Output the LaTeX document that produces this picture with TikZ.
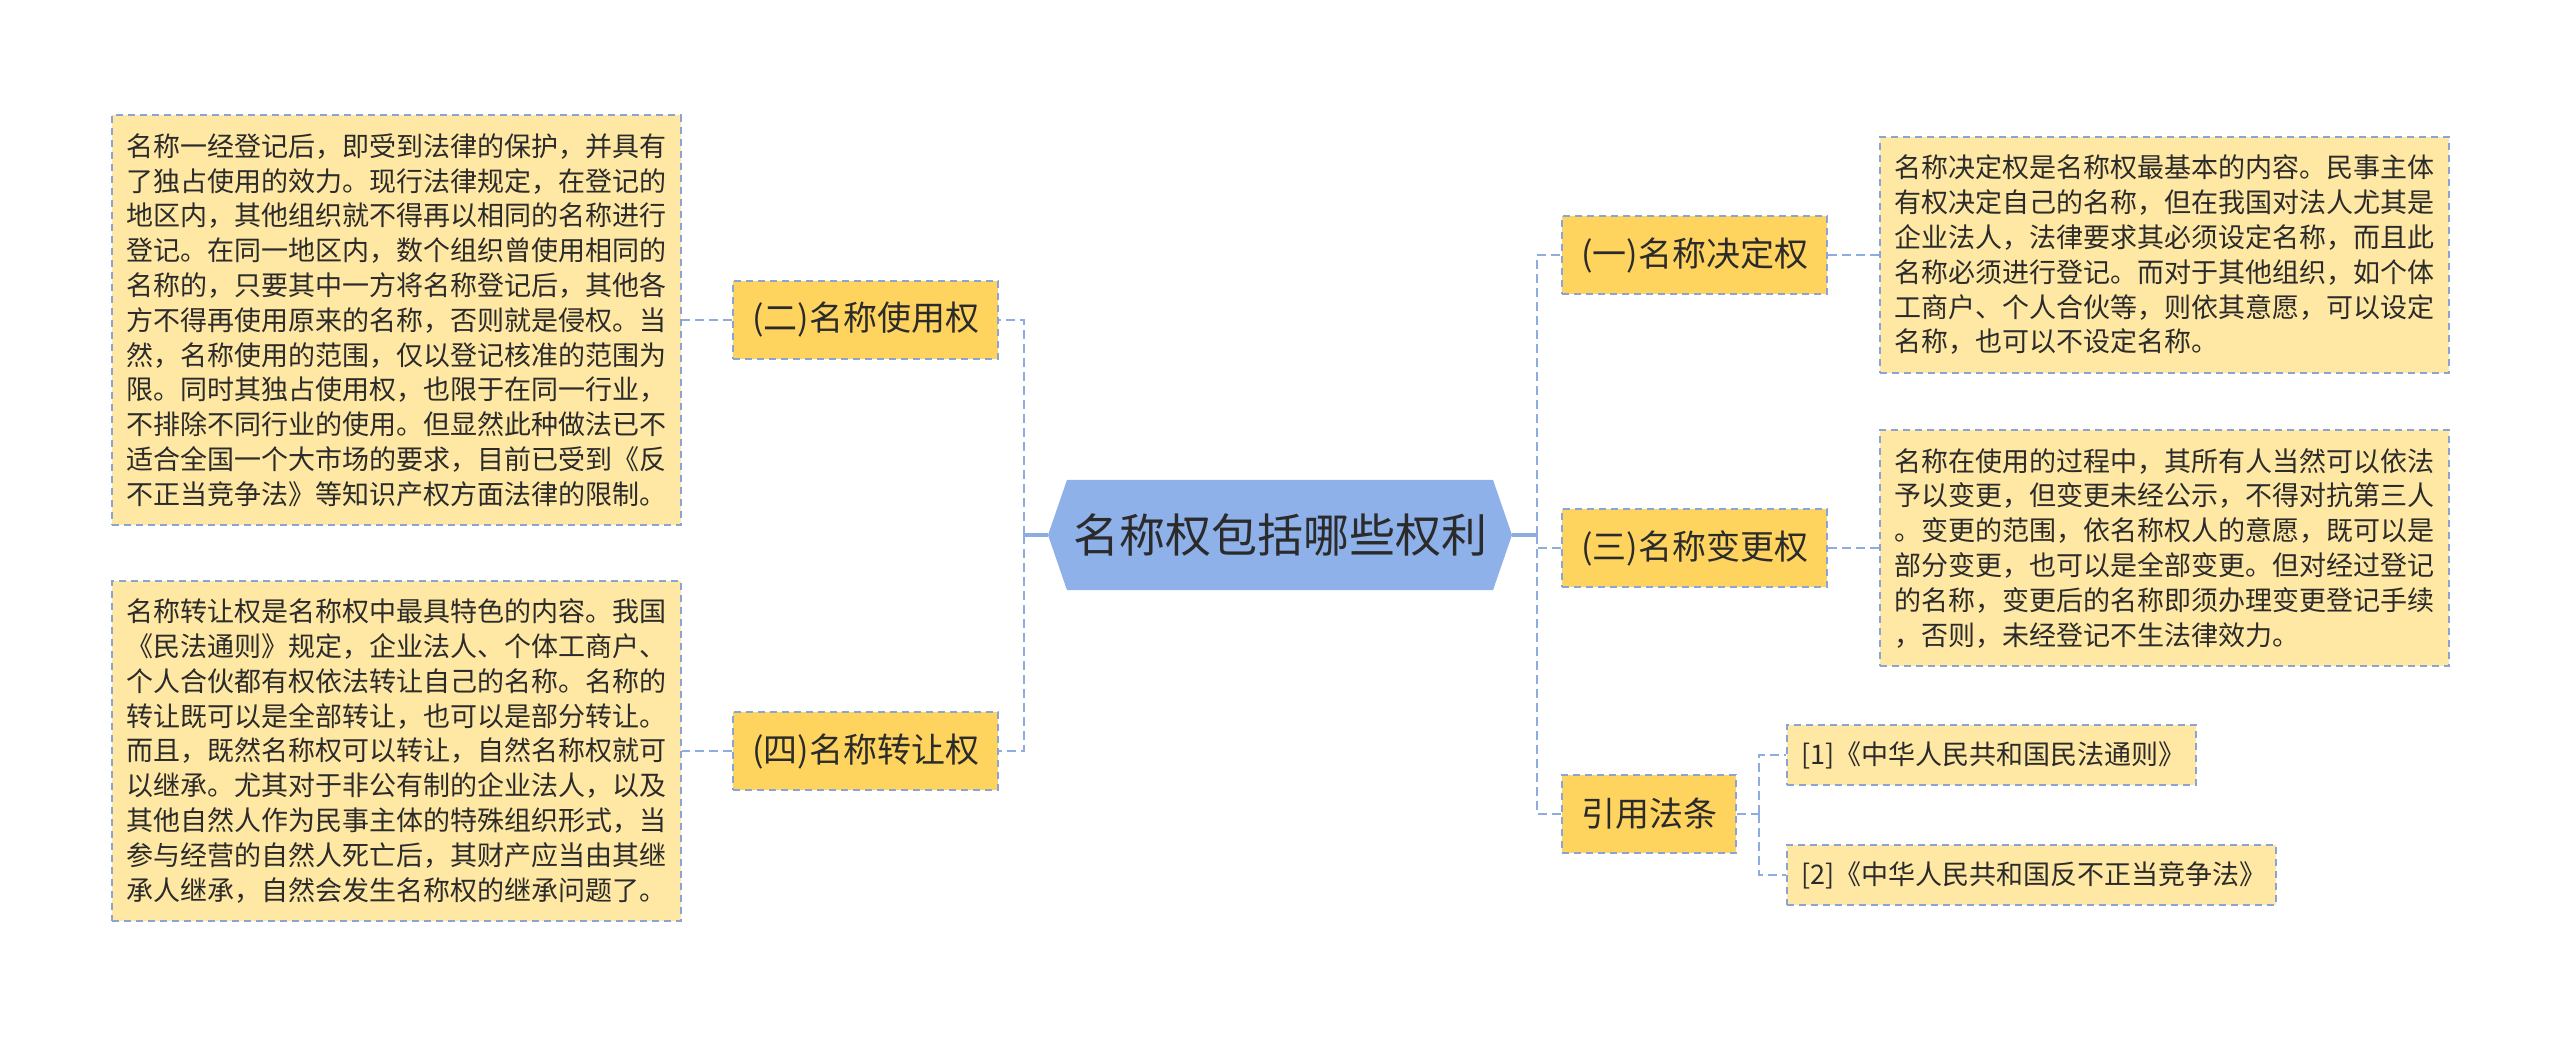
\documentclass[tikz,border=0pt]{standalone}
\usepackage{fontspec}
\setmainfont{Noto Sans CJK SC}
\usetikzlibrary{positioning,shapes.symbols}

\definecolor{rootblue}{HTML}{8EB1EA}
\definecolor{branchyellow}{HTML}{FFD45E}
\definecolor{noteyellow}{HTML}{FFE8A4}
\definecolor{edgeblue}{HTML}{8AA5D3}
\definecolor{lineblue}{HTML}{8EACE0}
\definecolor{inkgray}{HTML}{2B2B2B}

\begin{document}
\begin{tikzpicture}[x=1pt,y=1pt,text=inkgray,
    main node/.style={signal,signal to=west and east,signal pointer angle=142,
      fill=rootblue,minimum width=232pt,minimum height=55pt,inner sep=0pt,
      font=\fontsize{23pt}{27pt}\selectfont},
    branch node/.style={rectangle,fill=branchyellow,draw=edgeblue,line width=1pt,
      dash pattern=on 3.5pt off 2.5pt,minimum height=39pt,inner xsep=9.5pt,
      font=\fontsize{17pt}{20pt}\selectfont},
    note node/.style={rectangle,fill=noteyellow,draw=edgeblue,line width=1pt,
      dash pattern=on 3.5pt off 2.5pt,text width=270.5pt,align=left,
      inner xsep=7pt,inner ysep=9pt,font=\fontsize{13.5pt}{17.4pt}\selectfont},
    ref node/.style={note node,inner ysep=0pt,minimum height=30pt},
    link/.style={draw=lineblue,line width=1.2pt,dash pattern=on 4.5pt off 2.5pt},
    stem/.style={draw=lineblue,line width=1.6pt},
    elbow/.style={to path={|- (\tikztotarget)}}]

  \useasboundingbox (0,0) rectangle (1280,-518.5);

  \node[main node] (0) at (640,-267.5) {名称权包括哪些权利};
  \node[branch node,anchor=east] (1) at (499.5,-160) {(二)名称使用权};
  \node[branch node,anchor=east] (2) at (499.5,-375.5) {(四)名称转让权};
  \node[branch node,anchor=west] (3) at (780.5,-127.5) {(一)名称决定权};
  \node[branch node,anchor=west] (4) at (780.5,-274) {(三)名称变更权};
  \node[branch node,anchor=west] (5) at (780.5,-407) {引用法条};

  \node[note node] (6) [left=25pt of 1] {名称一经登记后，即受到法律的保护，并具有\\
    了独占使用的效力。现行法律规定，在登记的\\
    地区内，其他组织就不得再以相同的名称进行\\
    登记。在同一地区内，数个组织曾使用相同的\\
    名称的，只要其中一方将名称登记后，其他各\\
    方不得再使用原来的名称，否则就是侵权。当\\
    然，名称使用的范围，仅以登记核准的范围为\\
    限。同时其独占使用权，也限于在同一行业，\\
    不排除不同行业的使用。但显然此种做法已不\\
    适合全国一个大市场的要求，目前已受到《反\\
    不正当竞争法》等知识产权方面法律的限制。};
  \node[note node] (7) [left=25pt of 2] {名称转让权是名称权中最具特色的内容。我国\\
    《民法通则》规定，企业法人、个体工商户、\\
    个人合伙都有权依法转让自己的名称。名称的\\
    转让既可以是全部转让，也可以是部分转让。\\
    而且，既然名称权可以转让，自然名称权就可\\
    以继承。尤其对于非公有制的企业法人，以及\\
    其他自然人作为民事主体的特殊组织形式，当\\
    参与经营的自然人死亡后，其财产应当由其继\\
    承人继承，自然会发生名称权的继承问题了。};
  \node[note node] (8) [right=25.5pt of 3] {名称决定权是名称权最基本的内容。民事主体\\
    有权决定自己的名称，但在我国对法人尤其是\\
    企业法人，法律要求其必须设定名称，而且此\\
    名称必须进行登记。而对于其他组织，如个体\\
    工商户、个人合伙等，则依其意愿，可以设定\\
    名称，也可以不设定名称。};
  \node[note node] (9) [right=25.5pt of 4] {名称在使用的过程中，其所有人当然可以依法\\
    予以变更，但变更未经公示，不得对抗第三人\\
    。变更的范围，依名称权人的意愿，既可以是\\
    部分变更，也可以是全部变更。但对经过登记\\
    的名称，变更后的名称即须办理变更登记手续\\
    ，否则，未经登记不生法律效力。};
  \node[ref node,text width=190.5pt] (10) [right=24.5pt of 5,yshift=29.5pt] {[1]《中华人民共和国民法通则》};
  \node[ref node,text width=230.5pt] (11) [right=24.5pt of 5,yshift=-30.5pt] {[2]《中华人民共和国反不正当竞争法》};

  \coordinate (a) at (512,-267.5);
  \coordinate (b) at (768.5,-267.5);
  \coordinate (c) at (879.5,-407);

  \path (0.west) edge[stem] (a)
        (0.east) edge[stem] (b)
        (a) edge[link,elbow] (1)
            edge[link,elbow] (2)
        (b) edge[link,elbow] (3)
            edge[link,elbow] (4)
            edge[link,elbow] (5)
        (5) edge[link] (c)
        (c) edge[link,elbow] (10)
            edge[link,elbow] (11)
        (1) edge[link] (6)
        (2) edge[link] (7)
        (3) edge[link] (8)
        (4) edge[link] (9);
\end{tikzpicture}
\end{document}
